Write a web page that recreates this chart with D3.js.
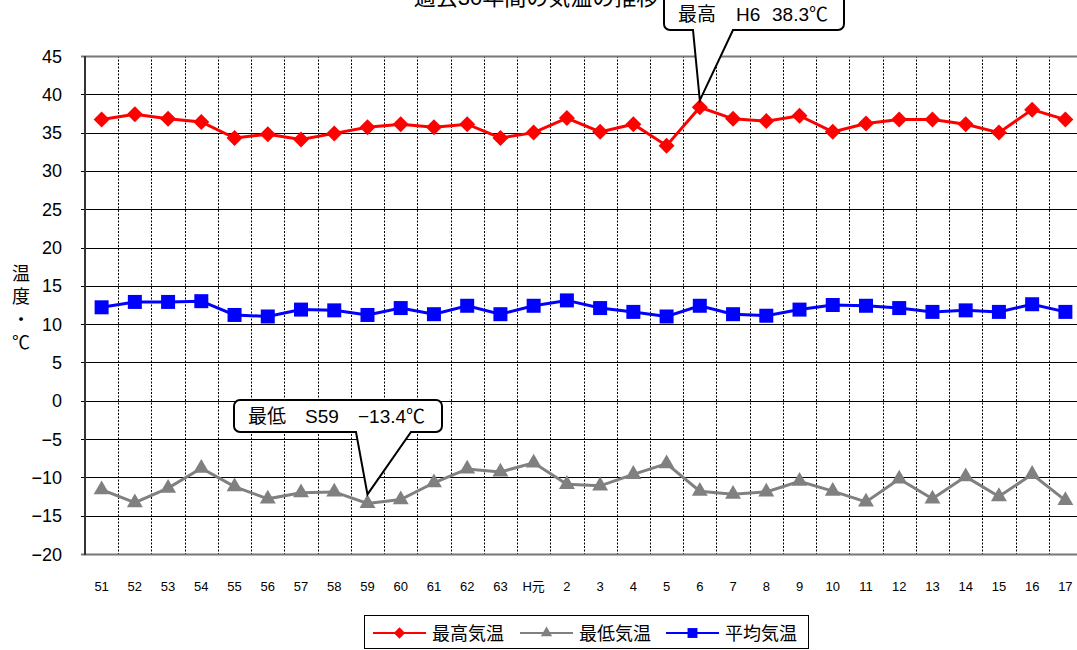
<!DOCTYPE html>
<html lang="ja">
<head>
<meta charset="UTF-8"/>
<title>過去30年間の気温の推移</title>
<script src="https://d3js.org/d3.v7.min.js"></script>
<style>
    body { margin: 0; background: #fff; }
    svg text { font-family: "Liberation Sans", "Noto Sans CJK JP", sans-serif; fill: #000; white-space: pre; }
</style>
</head>
<body>
<div id="chart"></div>
<script>
    // years (Showa 51 .. Heisei 17)
    var years = ["51","52","53","54","55","56","57","58","59","60","61","62","63","H元",
                 "2","3","4","5","6","7","8","9","10","11","12","13","14","15","16","17"];

    // 最高気温
    var maxTemp = [36.7, 37.4, 36.8, 36.4, 34.3, 34.8, 34.1, 34.9, 35.7, 36.1, 35.7, 36.1, 34.3, 35.0,
                   36.9, 35.1, 36.1, 33.3, 38.3, 36.8, 36.5, 37.2, 35.1, 36.2, 36.7, 36.7, 36.1, 35.0, 38.0, 36.7];
    // 最低気温
    var minTemp = [-11.6, -13.3, -11.4, -8.8, -11.2, -12.8, -12.0, -11.9, -13.4, -12.9, -10.7, -8.9, -9.3, -8.1,
                   -10.9, -11.1, -9.6, -8.2, -11.8, -12.2, -11.9, -10.5, -11.8, -13.2, -10.2, -12.8, -9.9, -12.5, -9.6, -13.0];
    // 平均気温
    var avgTemp = [12.2, 12.9, 12.9, 13.0, 11.2, 11.0, 11.9, 11.8, 11.2, 12.1, 11.3, 12.4, 11.3, 12.4,
                   13.1, 12.1, 11.6, 11.0, 12.4, 11.3, 11.1, 11.9, 12.5, 12.4, 12.1, 11.6, 11.8, 11.6, 12.6, 11.6];

    var yTicks = [45, 40, 35, 30, 25, 20, 15, 10, 5, 0, -5, -10, -15, -20];

    var width = 1077, height = 650;
    var plotLeft = 85, plotRight = 1082, plotTop = 56, plotBottom = 554;

    var svg = d3.select("#chart").append("svg")
        .attr("width", width)
        .attr("height", height);

    var x = d3.scaleBand().domain(years).range([plotLeft, plotRight]);
    var y = d3.scaleLinear().domain([-20, 45]).range([plotBottom, plotTop]);

    // title (partly cut off at the top)
    svg.append("text")
        .attr("x", 536).attr("y", 5)
        .attr("text-anchor", "middle")
        .attr("font-size", "22px")
        .text("過去30年間の気温の推移");

    // vertical dashed grid between categories
    svg.selectAll("line.vgrid")
        .data(years.slice(1))
        .enter().append("line")
        .attr("class", "vgrid")
        .attr("x1", function(d) { return Math.round(x(d)) + 0.5; })
        .attr("x2", function(d) { return Math.round(x(d)) + 0.5; })
        .attr("y1", plotTop).attr("y2", plotBottom)
        .attr("stroke", "#000")
        .attr("stroke-width", 1)
        .attr("stroke-dasharray", "2,1.5");

    // horizontal grid
    svg.selectAll("line.hgrid")
        .data(yTicks)
        .enter().append("line")
        .attr("class", "hgrid")
        .attr("x1", plotLeft - 4).attr("x2", plotRight)
        .attr("y1", function(d) { return Math.round(y(d)) + 0.5; })
        .attr("y2", function(d) { return Math.round(y(d)) + 0.5; })
        .attr("stroke", function(d) { return (d === 45 || d === -20) ? "#777" : "#000"; })
        .attr("stroke-width", function(d) { return (d === 45 || d === -20) ? 2 : 1; });

    // left axis line
    svg.append("line")
        .attr("x1", plotLeft).attr("x2", plotLeft)
        .attr("y1", plotTop).attr("y2", plotBottom + 1)
        .attr("stroke", "#333")
        .attr("stroke-width", 2);

    // y tick labels
    svg.selectAll("text.ytick")
        .data(yTicks)
        .enter().append("text")
        .attr("class", "ytick")
        .attr("x", 62)
        .attr("y", function(d) { return y(d) + 6.5; })
        .attr("text-anchor", "end")
        .attr("font-size", "18px")
        .text(function(d) { return d < 0 ? "\u2212" + Math.abs(d) : d; });

    // x tick labels
    svg.selectAll("text.xtick")
        .data(years)
        .enter().append("text")
        .attr("class", "xtick")
        .attr("x", function(d) { return x(d) + x.bandwidth() / 2; })
        .attr("y", 591)
        .attr("text-anchor", "middle")
        .attr("font-size", "13px")
        .text(function(d) { return d; });

    // y axis title, stacked vertically
    var yTitle = ["温", "度", "・", "℃"];
    svg.selectAll("text.ytitle")
        .data(yTitle)
        .enter().append("text")
        .attr("class", "ytitle")
        .attr("x", 21)
        .attr("y", function(d, i) { return 280 + i * 23; })
        .attr("text-anchor", "middle")
        .attr("font-size", "18px")
        .text(function(d) { return d; });

    // wide diamond like the spreadsheet marker
    var wideDiamond = {
        draw: function(ctx, size) {
            var h = Math.sqrt(size) / 2;
            ctx.moveTo(0, -h);
            ctx.lineTo(h, 0);
            ctx.lineTo(0, h);
            ctx.lineTo(-h, 0);
            ctx.closePath();
        }
    };

    var cx = function(d, i) { return x(years[i]) + x.bandwidth() / 2; };
    var line = d3.line().x(cx).y(function(d) { return y(d); });

    var series = [
        { name: "最高気温", values: maxTemp, color: "#ff0000", shape: wideDiamond, size: 256 },
        { name: "最低気温", values: minTemp, color: "#808080", shape: d3.symbolTriangle, size: 110 },
        { name: "平均気温", values: avgTemp, color: "#0000ff", shape: d3.symbolSquare, size: 196 }
    ];

    series.forEach(function(s) {
        svg.append("path")
            .datum(s.values)
            .attr("d", line)
            .attr("fill", "none")
            .attr("stroke", s.color)
            .attr("stroke-width", 3);
        svg.selectAll(null)
            .data(s.values)
            .enter().append("path")
            .attr("transform", function(d, i) { return "translate(" + cx(d, i) + "," + y(d) + ")"; })
            .attr("d", d3.symbol().type(s.shape).size(s.size))
            .attr("fill", s.color);
    });

    // callouts
    function callout(bx, by, bw, bh, p1, p2, tipX, tipY, parts) {
        var r = 6;
        var p = d3.path();
        p.moveTo(bx + r, by);
        p.lineTo(bx + bw - r, by);
        p.arcTo(bx + bw, by, bx + bw, by + r, r);
        p.lineTo(bx + bw, by + bh - r);
        p.arcTo(bx + bw, by + bh, bx + bw - r, by + bh, r);
        p.lineTo(p2, by + bh);
        p.lineTo(tipX, tipY);
        p.lineTo(p1, by + bh);
        p.lineTo(bx + r, by + bh);
        p.arcTo(bx, by + bh, bx, by + bh - r, r);
        p.lineTo(bx, by + r);
        p.arcTo(bx, by, bx + r, by, r);
        p.closePath();
        svg.append("path")
            .attr("d", p.toString())
            .attr("fill", "#fff")
            .attr("stroke", "#000")
            .attr("stroke-width", 2);
        var t = svg.append("text")
            .attr("y", by + bh - 9)
            .attr("font-size", "19px");
        parts.forEach(function(pt) {
            t.append("tspan").attr("x", bx + pt[0]).text(pt[1]);
        });
    }

    var iMax = years.indexOf("6");
    callout(664, -10, 180, 40, 693, 733,
        cx(null, iMax), y(maxTemp[iMax]) - 7,
        [[14, "最高"], [72, "H6"], [108, "38.3℃"]]);

    var iMin = years.indexOf("59");
    callout(234, 400, 208, 32, 356, 411,
        cx(null, iMin), y(minTemp[iMin]) - 9,
        [[14, "最低"], [71, "S59"], [124, "\u221213.4℃"]]);

    // legend
    var lg = svg.append("g");
    lg.append("rect")
        .attr("x", 364.5).attr("y", 615.5)
        .attr("width", 444).attr("height", 33)
        .attr("fill", "#fff")
        .attr("stroke", "#000")
        .attr("stroke-width", 1);
    var legendX = [373, 520, 666];
    series.forEach(function(s, i) {
        var lx = legendX[i];
        lg.append("line")
            .attr("x1", lx).attr("x2", lx + 53)
            .attr("y1", 633).attr("y2", 633)
            .attr("stroke", s.color)
            .attr("stroke-width", 2);
        lg.append("path")
            .attr("transform", "translate(" + (lx + 26.5) + ",633)")
            .attr("d", d3.symbol().type(s.shape).size(s.size * 0.5))
            .attr("fill", s.color);
        lg.append("text")
            .attr("x", lx + 59)
            .attr("y", 640)
            .attr("font-size", "18px")
            .text(s.name);
    });
</script>
</body>
</html>
